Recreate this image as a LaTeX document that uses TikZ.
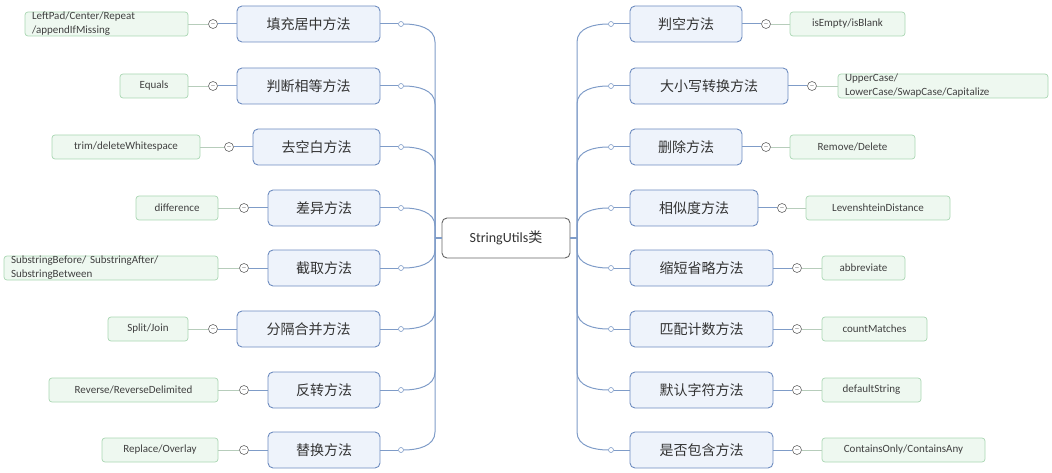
\documentclass[tikz,border=0pt]{standalone}
\usepackage{fontspec}
\setmainfont{Carlito}
\newfontfamily\cjk{Noto Sans CJK SC}
\definecolor{mainfill}{HTML}{EEF3FB}
\definecolor{maindraw}{HTML}{6E8CC0}
\definecolor{leaffill}{HTML}{EEF8F0}
\definecolor{leafdraw}{HTML}{A9D6B2}
\definecolor{linec}{HTML}{7F9CC8}
\begin{document}
\begin{tikzpicture}[x=1pt,y=-1pt,
 mainbox/.style={draw=maindraw,fill=mainfill,rounded corners=5pt,line width=0.9pt,minimum height=36pt,inner sep=0pt,font=\cjk\fontsize{14}{16}\selectfont,text=black!80},
 leafbox/.style={draw=leafdraw,fill=leaffill,rounded corners=3pt,line width=0.7pt,minimum height=24pt,inner sep=0pt,font=\fontsize{11}{14}\selectfont,text=black!75},
 knob/.style={circle,draw=black!60,fill=white,inner sep=0pt,minimum size=9pt,line width=0.6pt},
 dot/.style={circle,draw=linec,fill=white,inner sep=0pt,minimum size=5pt,line width=0.6pt},
 conn/.style={draw=linec,line width=1pt},
 lconn/.style={draw=leafdraw!80!black!60,line width=0.8pt}]
\useasboundingbox (0,0) rectangle (1052,473);
\node[draw=black!60,fill=white,rounded corners=5pt,line width=0.9pt,minimum width=128pt,minimum height=40pt,inner sep=0pt,font=\fontsize{14}{16}\selectfont,text=black!80] (c) at (506,238) {StringUtils{\cjk 类}};
\coordinate (lt) at (435,238);
\coordinate (rt) at (577,238);
% left side
\foreach \i/\y/\xl/\t/\ka/\la/\lb/\al/\lt in {
 1/24/237/填充居中方法/213/25/188/left/{LeftPad/Center/Repeat\\/appendIfMissing},
 2/86/237/判断相等方法/213/120/188/center/{Equals},
 3/147/253/去空白方法/229/52/200/center/{trim/deleteWhitespace},
 4/208/268/差异方法/244/136/218/center/{difference},
 5/268/268/截取方法/244/4/218/left/{SubstringBefore/ SubstringAfter/\\SubstringBetween},
 6/329/237/分隔合并方法/213/108/188/center/{Split/Join},
 7/390/268/反转方法/244/49/218/center/{Reverse/ReverseDelimited},
 8/450/268/替换方法/244/102/218/center/{Replace/Overlay}}{
 \node[mainbox,minimum width={380-\xl}] (L\i) at ({(380+\xl)/2},\y) {\t};
 \node[knob] (LK\i) at (\ka,\y) {};
 \node[font=\tiny] at (LK\i) {$-$};
 \node[leafbox,align=\al,minimum width={\lb-\la},text width={\lb-\la-14},inner xsep=7pt] (LL\i) at ({(\la+\lb)/2},\y) {\lt};
 \node[dot] (LD\i) at (401,\y) {};
 \draw[lconn] (LL\i.east) -- (LK\i.west);
 \draw[conn] (LK\i.east) -- (L\i.west);
 \draw[conn] (L\i.east) -- (LD\i.west);
}
% right side
\foreach \i/\y/\xr/\t/\ka/\la/\lb/\al/\lt in {
 1/24/742/判空方法/766/790/905/center/{isEmpty/isBlank},
 2/86/788/大小写转换方法/812/838/1048/left/{UpperCase/\\LowerCase/SwapCase/Capitalize},
 3/147/742/删除方法/766/790/915/center/{Remove/Delete},
 4/208/758/相似度方法/782/806/950/center/{LevenshteinDistance},
 5/268/773/缩短省略方法/797/822/905/center/{abbreviate},
 6/329/773/匹配计数方法/797/822/927/center/{countMatches},
 7/390/773/默认字符方法/797/822/921/center/{defaultString},
 8/450/773/是否包含方法/797/822/985/center/{ContainsOnly/ContainsAny}}{
 \node[mainbox,minimum width={\xr-630}] (R\i) at ({(630+\xr)/2},\y) {\t};
 \node[knob] (RK\i) at (\ka,\y) {};
 \node[font=\tiny] at (RK\i) {$-$};
 \node[leafbox,align=\al,minimum width={\lb-\la},text width={\lb-\la-14},inner xsep=7pt] (RL\i) at ({(\la+\lb)/2},\y) {\lt};
 \node[dot] (RD\i) at (611,\y) {};
 \draw[lconn] (RK\i.east) -- (RL\i.west);
 \draw[conn] (R\i.east) -- (RK\i.west);
 \draw[conn] (RD\i.east) -- (R\i.west);
}
\draw[conn] (c.west) -- (lt);
\draw[conn] (c.east) -- (rt);
% trunk curves
\foreach \i/\y in {1/24,2/86,3/147,4/208}{
 \draw[conn] (lt) -- (435,{\y+18}) to[out=90,in=0] (LD\i.east);
 \draw[conn] (rt) -- (577,{\y+18}) to[out=90,in=180] (RD\i.west);
}
\foreach \i/\y in {5/268,6/329,7/390,8/450}{
 \draw[conn] (lt) -- (435,{\y-18}) to[out=-90,in=0] (LD\i.east);
 \draw[conn] (rt) -- (577,{\y-18}) to[out=-90,in=180] (RD\i.west);
}
\end{tikzpicture}
\end{document}
